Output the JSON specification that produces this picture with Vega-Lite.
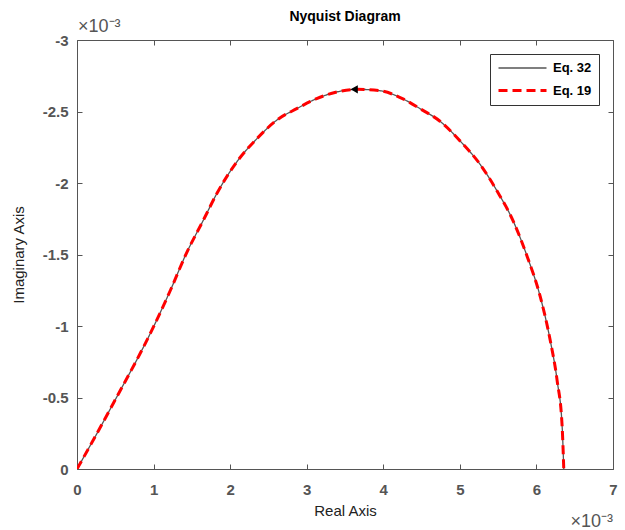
{
  "$schema": "https://vega.github.io/schema/vega-lite/v6.json",
  "autosize": "none",
  "width": 536,
  "height": 429,
  "padding": {"left": 77, "top": 40, "right": 12, "bottom": 61},
  "background": "white",
  "title": {"text": "Nyquist Diagram", "fontSize": 14, "fontWeight": "bold", "color": "#000", "font": "Liberation Sans", "offset": -6},
  "config": {
    "view": {"stroke": "#555", "strokeWidth": 1},
    "font": "Liberation Sans",
    "axis": {"grid": false, "domain": false, "labelFlush": false, "tickColor": "#555", "tickSize": -5, "tickWidth": 1, "labelFont": "Liberation Sans", "labelFontSize": 15, "labelColor": "#555", "labelFontWeight": "bold", "titleFont": "Liberation Sans", "titleFontSize": 15, "titleFontWeight": "normal", "titleColor": "#222"},
    "legend": {"orient": "top-right", "offset": 14, "title": null, "fillColor": "white", "strokeColor": "#333", "padding": 7, "labelFontSize": 13, "labelFontWeight": "bold", "labelColor": "#000", "symbolType": "M-1,0H7", "symbolSize": 144, "labelOffset": 41, "rowPadding": 8}
  },
  "datasets": {
    "curve": [
      {"s": "Eq. 32", "i": 0, "x": 0, "y": 0},
      {"s": "Eq. 32", "i": 1, "x": 0.2, "y": -0.19},
      {"s": "Eq. 32", "i": 2, "x": 0.475, "y": -0.46},
      {"s": "Eq. 32", "i": 3, "x": 1.0, "y": -0.995},
      {"s": "Eq. 32", "i": 4, "x": 1.22, "y": -1.25},
      {"s": "Eq. 32", "i": 5, "x": 1.43, "y": -1.51},
      {"s": "Eq. 32", "i": 6, "x": 1.65, "y": -1.74},
      {"s": "Eq. 32", "i": 7, "x": 1.83, "y": -1.93},
      {"s": "Eq. 32", "i": 8, "x": 2.09, "y": -2.15},
      {"s": "Eq. 32", "i": 9, "x": 2.35, "y": -2.31},
      {"s": "Eq. 32", "i": 10, "x": 2.61, "y": -2.44},
      {"s": "Eq. 32", "i": 11, "x": 2.87, "y": -2.52},
      {"s": "Eq. 32", "i": 12, "x": 3.13, "y": -2.59},
      {"s": "Eq. 32", "i": 13, "x": 3.38, "y": -2.635},
      {"s": "Eq. 32", "i": 14, "x": 3.66, "y": -2.655},
      {"s": "Eq. 32", "i": 15, "x": 3.96, "y": -2.645},
      {"s": "Eq. 32", "i": 16, "x": 4.25, "y": -2.59},
      {"s": "Eq. 32", "i": 17, "x": 4.48, "y": -2.52},
      {"s": "Eq. 32", "i": 18, "x": 4.745, "y": -2.43},
      {"s": "Eq. 32", "i": 19, "x": 5.01, "y": -2.29},
      {"s": "Eq. 32", "i": 20, "x": 5.27, "y": -2.126},
      {"s": "Eq. 32", "i": 21, "x": 5.49, "y": -1.94},
      {"s": "Eq. 32", "i": 22, "x": 5.7, "y": -1.73},
      {"s": "Eq. 32", "i": 23, "x": 5.88, "y": -1.485},
      {"s": "Eq. 32", "i": 24, "x": 6.05, "y": -1.205},
      {"s": "Eq. 32", "i": 25, "x": 6.18, "y": -0.9},
      {"s": "Eq. 32", "i": 26, "x": 6.27, "y": -0.62},
      {"s": "Eq. 32", "i": 27, "x": 6.336, "y": -0.296},
      {"s": "Eq. 32", "i": 28, "x": 6.357, "y": 0},
      {"s": "Eq. 19", "i": 0, "x": 0, "y": 0},
      {"s": "Eq. 19", "i": 1, "x": 0.2, "y": -0.19},
      {"s": "Eq. 19", "i": 2, "x": 0.475, "y": -0.46},
      {"s": "Eq. 19", "i": 3, "x": 1.0, "y": -0.995},
      {"s": "Eq. 19", "i": 4, "x": 1.22, "y": -1.25},
      {"s": "Eq. 19", "i": 5, "x": 1.43, "y": -1.51},
      {"s": "Eq. 19", "i": 6, "x": 1.65, "y": -1.74},
      {"s": "Eq. 19", "i": 7, "x": 1.83, "y": -1.93},
      {"s": "Eq. 19", "i": 8, "x": 2.09, "y": -2.15},
      {"s": "Eq. 19", "i": 9, "x": 2.35, "y": -2.31},
      {"s": "Eq. 19", "i": 10, "x": 2.61, "y": -2.44},
      {"s": "Eq. 19", "i": 11, "x": 2.87, "y": -2.52},
      {"s": "Eq. 19", "i": 12, "x": 3.13, "y": -2.59},
      {"s": "Eq. 19", "i": 13, "x": 3.38, "y": -2.635},
      {"s": "Eq. 19", "i": 14, "x": 3.66, "y": -2.655},
      {"s": "Eq. 19", "i": 15, "x": 3.96, "y": -2.645},
      {"s": "Eq. 19", "i": 16, "x": 4.25, "y": -2.59},
      {"s": "Eq. 19", "i": 17, "x": 4.48, "y": -2.52},
      {"s": "Eq. 19", "i": 18, "x": 4.745, "y": -2.43},
      {"s": "Eq. 19", "i": 19, "x": 5.01, "y": -2.29},
      {"s": "Eq. 19", "i": 20, "x": 5.27, "y": -2.126},
      {"s": "Eq. 19", "i": 21, "x": 5.49, "y": -1.94},
      {"s": "Eq. 19", "i": 22, "x": 5.7, "y": -1.73},
      {"s": "Eq. 19", "i": 23, "x": 5.88, "y": -1.485},
      {"s": "Eq. 19", "i": 24, "x": 6.05, "y": -1.205},
      {"s": "Eq. 19", "i": 25, "x": 6.18, "y": -0.9},
      {"s": "Eq. 19", "i": 26, "x": 6.27, "y": -0.62},
      {"s": "Eq. 19", "i": 27, "x": 6.336, "y": -0.296},
      {"s": "Eq. 19", "i": 28, "x": 6.357, "y": 0}
    ],
    "arrow": [{"x": 3.62, "y": -2.655}],
    "exps": [{"t": "×10⁻³", "x": 0, "y": -3, "w": "tl"}, {"t": "×10⁻³", "x": 7, "y": 0, "w": "br"}]
  },
  "layer": [
    {
      "data": {"name": "curve"},
      "mark": {"type": "line", "clip": true, "interpolate": "monotone"},
      "encoding": {
        "x": {"field": "x", "type": "quantitative", "scale": {"domain": [0, 7], "nice": false},
              "axis": {"orient": "bottom", "values": [0,1,2,3,4,5,6,7], "title": "Real Axis", "titlePadding": 6, "labelPadding": 18, "labelExpr": "'' + datum.value"}},
        "y": {"field": "y", "type": "quantitative", "scale": {"domain": [-3, 0], "nice": false, "reverse": true},
              "axis": {"orient": "left", "values": [-3,-2.5,-2,-1.5,-1,-0.5,0], "title": "Imaginary Axis", "titlePadding": 16, "labelPadding": 14, "labelExpr": "'' + datum.value"}},
        "order": {"field": "i"},
        "color": {"field": "s", "type": "nominal", "scale": {"domain": ["Eq. 32", "Eq. 19"], "range": ["#555555", "#ff0000"]}},
        "strokeDash": {"field": "s", "type": "nominal", "scale": {"domain": ["Eq. 32", "Eq. 19"], "range": [[1, 0], [9, 5]]}},
        "strokeWidth": {"field": "s", "type": "nominal", "scale": {"domain": ["Eq. 32", "Eq. 19"], "range": [1.3, 3]}}
      }
    },
    {
      "data": {"name": "arrow"},
      "mark": {"type": "point", "shape": "triangle-left", "filled": true, "color": "#000", "opacity": 1, "size": 70},
      "encoding": {
        "x": {"field": "x", "type": "quantitative", "axis": {"orient": "top", "values": [0,1,2,3,4,5,6,7], "labels": false, "title": null}},
        "y": {"field": "y", "type": "quantitative", "axis": {"orient": "right", "values": [-3,-2.5,-2,-1.5,-1,-0.5,0], "labels": false, "title": null}}
      }
    },
    {
      "data": {"name": "exps"},
      "transform": [{"filter": "datum.w == 'tl'"}],
      "mark": {"type": "text", "align": "left", "baseline": "alphabetic", "fontSize": 18, "color": "#555", "font": "Liberation Sans", "dy": -8, "dx": 1},
      "encoding": {
        "x": {"field": "x", "type": "quantitative", "axis": null},
        "y": {"field": "y", "type": "quantitative", "axis": null},
        "text": {"field": "t"}
      }
    },
    {
      "data": {"name": "exps"},
      "transform": [{"filter": "datum.w == 'br'"}],
      "mark": {"type": "text", "align": "right", "baseline": "alphabetic", "fontSize": 18, "color": "#555", "font": "Liberation Sans", "dy": 58, "dx": 0},
      "encoding": {
        "x": {"field": "x", "type": "quantitative", "axis": null},
        "y": {"field": "y", "type": "quantitative", "axis": null},
        "text": {"field": "t"}
      }
    }
  ],
  "resolve": {"axis": {"x": "independent", "y": "independent"}}
}
